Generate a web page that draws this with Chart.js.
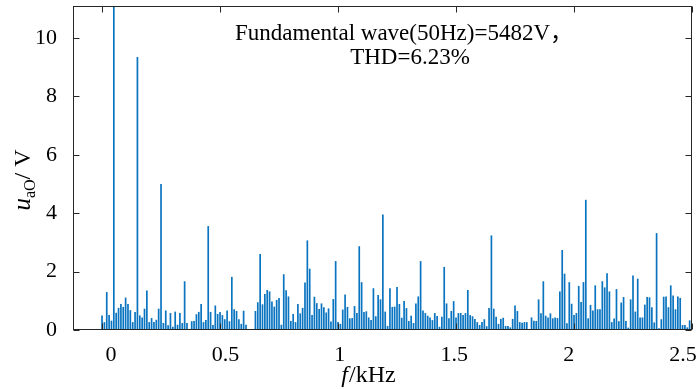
<!DOCTYPE html>
<html>
<head>
<meta charset="utf-8">
<script src="https://cdn.jsdelivr.net/npm/chart.js@4.4.0/dist/chart.umd.min.js"></script>
<style>
  html, body { margin: 0; padding: 0; background: #fff; }
  #wrap { width: 700px; height: 389px; }
</style>
</head>
<body>
<div id="wrap"><canvas id="spectrum"></canvas></div>
<script>
// FFT of the phase voltage, 10 Hz bins from 0 to 2.5 kHz
const binHz = 10;
const fundamental = 5482; // 50 Hz component, runs off the top of the axis
const harmonics = [
  0.5, 0.27, 1.3, 0.51, 0.32, fundamental, 0.59, 0.76, 0.89, 0.79,
  1.11, 0.89, 0.68, 0.27, 0.62, 9.35, 0.5, 0.43, 0.73, 1.35,
  0.27, 0.41, 0.27, 0.35, 0.73, 5.0, 0.24, 0.67, 0.16, 0.58,
  0.11, 0.63, 0.18, 0.58, 0.24, 1.67, 0.24, 0.03, 0.3, 0.31,
  0.54, 0.62, 0.89, 0.27, 0.34, 3.56, 0.62, 0.17, 0.84, 0.55,
  0.62, 0.51, 0.37, 0.67, 0.3, 1.82, 0.71, 0.65, 0.37, 0.21,
  0.66, 0.18, 0, 0, 0, 0.65, 0.95, 2.6, 0.88, 1.23,
  1.37, 1.32, 0.98, 0.8, 1.03, 1.1, 0.18, 1.91, 1.36, 1.15,
  0.31, 0.55, 0.27, 0.89, 0.57, 0.76, 1.63, 3.07, 2.1, 0.51,
  1.14, 0.92, 0.72, 0.91, 0.78, 0.6, 0.74, 0.29, 1.06, 2.36,
  0.27, 0.21, 0.7, 1.22, 0.79, 0.4, 0.41, 0.82, 0.58, 2.87,
  1.64, 0.62, 0.64, 0.43, 0.34, 1.43, 0.47, 1.2, 1.05, 3.96,
  0.63, 0.14, 1.43, 0.79, 0.8, 1.47, 0.89, 0.42, 0.99, 0.75,
  0.31, 0.49, 0.24, 0.91, 1.15, 2.36, 0.67, 0.58, 0.49, 0.43,
  0.34, 0.58, 0.48, 0.11, 0.45, 2.16, 0.91, 0.4, 0.65, 0.99,
  0.43, 0.58, 0.58, 0.51, 0.58, 1.37, 0.51, 0.47, 0.38, 0.27,
  0.17, 0.27, 0.37, 0.13, 0.75, 3.24, 0.73, 0.45, 0.21, 0.38,
  0.42, 0.14, 0.14, 0.09, 0.38, 0.84, 0.65, 0.27, 0.25, 0.27,
  0.27, 0.03, 0.43, 0.32, 0.31, 1.05, 0.57, 1.67, 0.49, 0.43,
  0.57, 0.4, 0.43, 0.41, 1.32, 2.74, 1.93, 0.23, 1.64, 0.9,
  0.51, 0.58, 1.51, 0.96, 1.64, 4.46, 0.4, 0.86, 0.67, 1.53,
  0.71, 0.71, 1.67, 1.46, 1.94, 1.32, 0.27, 0.39, 1.4, 0.3,
  0.94, 1.13, 0.31, 0.08, 1.05, 1.87, 0.63, 1.76, 0.43, 0.43,
  0.87, 1.13, 1.12, 0.78, 0.26, 3.32, 0.06, 0.37, 1.14, 1.15,
  0.78, 1.53, 1.18, 0.71, 1.15, 1.1, 0.17, 0.17, 0.09, 0.33,
  0.2
];
const xTicks = [0, 0.5, 1, 1.5, 2, 2.5];
const yTicks = [0, 2, 4, 6, 8, 10];
const noteLines = ['Fundamental wave(50Hz)=5482V，', 'THD=6.23%'];

const serif = '"Liberation Serif", "Times New Roman", "Noto Sans CJK SC", serif';
const axisColor = '#262626';

const points = harmonics.map((v, i) => ({ x: i * binHz / 1000, y: v }));

// chart.js reserves room for half labels at the ends, we place everything ourselves
function noPad(s) {
  s.paddingTop = 0; s.paddingBottom = 0; s.paddingLeft = 0; s.paddingRight = 0;
}

// box round the plot with inward tick marks, like the matlab figure
const frame = {
  id: 'frame',
  afterDatasetsDraw(chart) {
    const { ctx, chartArea: a, scales } = chart;
    const L = Math.round(a.left) + 0.5, R = Math.round(a.right) - 0.5;
    const T = Math.round(a.top) + 0.5, B = Math.round(a.bottom) - 0.5;
    ctx.save();
    ctx.strokeStyle = axisColor;
    ctx.lineWidth = 1;
    ctx.strokeRect(L, T, R - L, B - T);
    ctx.beginPath();
    xTicks.forEach(v => {
      const px = Math.round(scales.x.getPixelForValue(v)) + 0.5;
      ctx.moveTo(px, B); ctx.lineTo(px, B - 6);
      ctx.moveTo(px, T); ctx.lineTo(px, T + 6);
    });
    yTicks.forEach(v => {
      const py = Math.round(scales.y.getPixelForValue(v)) + 0.5;
      ctx.moveTo(L, py); ctx.lineTo(L + 6, py);
      ctx.moveTo(R, py); ctx.lineTo(R - 6, py);
    });
    ctx.stroke();
    ctx.restore();
  },
  afterDraw(chart) {
    const { ctx } = chart;
    ctx.save();
    ctx.fillStyle = '#000';
    ctx.textAlign = 'center';
    ctx.textBaseline = 'alphabetic';
    ctx.font = '23px ' + serif;
    ctx.fillText(noteLines[0], 404, 40);
    ctx.fillText(noteLines[1], 410, 64);

    // x title: f/kHz
    ctx.textAlign = 'left';
    ctx.font = 'italic 24px ' + serif;
    const fW = ctx.measureText('f').width;
    ctx.font = '24px ' + serif;
    const restW = ctx.measureText('/kHz').width;
    let x0 = 368 - (fW + restW) / 2;
    ctx.font = 'italic 24px ' + serif;
    ctx.fillText('f', x0, 382);
    ctx.font = '24px ' + serif;
    ctx.fillText('/kHz', x0 + fW + 1, 382);

    // y title: u_aO / V, rotated
    ctx.translate(30, 180);
    ctx.rotate(-Math.PI / 2);
    ctx.font = 'italic 25px ' + serif;
    const uW = ctx.measureText('u').width;
    ctx.font = '16px ' + serif;
    const subW = ctx.measureText('aO').width;
    ctx.font = '24px ' + serif;
    const vW = ctx.measureText('/ V').width;
    x0 = -(uW + subW + vW) / 2;
    ctx.font = 'italic 25px ' + serif;
    ctx.fillText('u', x0, 0);
    ctx.font = '16px ' + serif;
    ctx.fillText('aO', x0 + uW, 5);
    ctx.font = '24px ' + serif;
    ctx.fillText('/ V', x0 + uW + subW, 0);
    ctx.restore();
  }
};

new Chart(document.getElementById('spectrum'), {
  type: 'bar',
  data: {
    datasets: [{
      data: points,
      backgroundColor: '#0a74c0',
      borderWidth: 0,
      categoryPercentage: 1,
      barPercentage: 0.72
    }]
  },
  options: {
    responsive: true,
    maintainAspectRatio: false,
    animation: false,
    layout: { padding: { top: 6, right: 8, left: 0, bottom: 0 } },
    plugins: { legend: { display: false }, tooltip: { enabled: false } },
    scales: {
      x: {
        type: 'linear',
        position: 'bottom',
        offset: false,
        min: -0.123,
        max: 2.5,
        grid: { display: false, offset: false },
        border: { display: false },
        ticks: { display: false },
        afterBuildTicks: s => { s.ticks = xTicks.map(v => ({ value: v })); },
        afterFit: s => { s.height = 0; noPad(s); }
      },
      // label row: the printed labels sit a little off the tick marks
      xLabels: {
        type: 'linear',
        position: 'bottom',
        offset: false,
        min: -0.166,
        max: 2.539,
        grid: { display: false, offset: false },
        border: { display: false },
        ticks: {
          padding: 4,
          color: '#000',
          font: { family: serif, size: 22 },
          maxRotation: 0,
          autoSkip: false,
          callback: v => String(v)
        },
        afterBuildTicks: s => { s.ticks = xTicks.map(v => ({ value: v })); },
        afterFit: s => { s.height = 59; noPad(s); }
      },
      y: {
        type: 'linear',
        min: 0,
        max: 11.1,
        grid: { display: false },
        border: { display: false },
        ticks: {
          padding: 8,
          color: '#000',
          font: { family: serif, size: 22 },
          callback: v => String(v)
        },
        afterBuildTicks: s => { s.ticks = yTicks.map(v => ({ value: v })); },
        afterFit: s => { s.width = 73; noPad(s); }
      }
    }
  },
  plugins: [frame]
});
</script>
</body>
</html>
